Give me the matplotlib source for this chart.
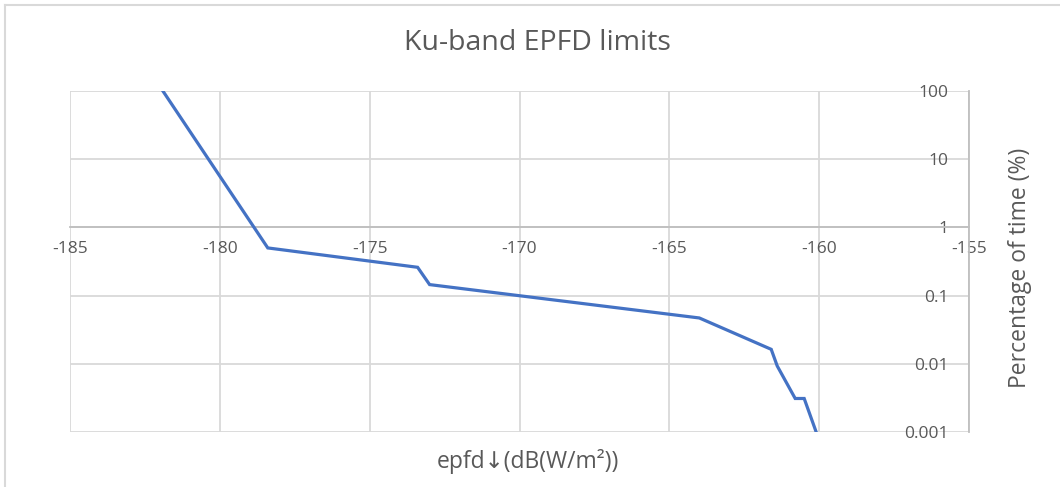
import matplotlib
matplotlib.use("Agg")
import matplotlib.pyplot as plt
from matplotlib.ticker import FixedLocator, FixedFormatter, NullLocator
from matplotlib.lines import Line2D

# Ku-band EPFD mask: epfd level vs percentage of time exceeded
epfd = [-181.9, -178.4, -173.4, -173.0, -164.0, -161.6, -161.4, -160.8, -160.5, -160.1]
pct_time = [100, 0.5, 0.26, 0.145, 0.047, 0.0163, 0.0093, 0.0031, 0.0031, 0.001]

x_ticks = [-185, -180, -175, -170, -165, -160, -155]
y_ticks = [0.001, 0.01, 0.1, 1, 10, 100]
y_tick_labels = ["0.001", "0.01", "0.1", "1", "10", "100"]

plt.rcParams['font.family'] = ['Open Sans', 'DejaVu Sans']
plt.rcParams['axes.unicode_minus'] = False
grey_txt = "#595959"
grid_col = "#D9D9D9"
axis_col = "#BFBFBF"

fig = plt.figure(figsize=(10.6, 4.87), dpi=100)
ax = fig.add_axes([70 / 1060, 1 - 432 / 487, 899 / 1060, 341 / 487])

ax.plot(epfd, pct_time, color="#4472C4", lw=2.3, solid_joinstyle="miter", zorder=3)

ax.set_yscale("log")
ax.set_xlim(-185, -155)
ax.set_ylim(0.001, 100)

ax.xaxis.set_major_locator(FixedLocator(x_ticks))
ax.yaxis.set_major_locator(FixedLocator(y_ticks))
ax.yaxis.set_major_formatter(FixedFormatter(y_tick_labels))
ax.yaxis.set_minor_locator(NullLocator())
ax.grid(True, color=grid_col, lw=1.3)
ax.set_axisbelow(True)

for side in ["left", "top"]:
    ax.spines[side].set_visible(False)
ax.spines["right"].set_color(axis_col)
ax.spines["right"].set_linewidth(1.3)
# horizontal axis crosses the log axis at 1 %
ax.spines["bottom"].set_position(("data", 1))
ax.spines["bottom"].set_color(axis_col)
ax.spines["bottom"].set_linewidth(1.3)

ax.tick_params(axis="x", length=0, pad=10, labelsize=12.5, labelcolor=grey_txt)
ax.yaxis.tick_right()
ax.tick_params(axis="y", which="both", length=0, pad=-15, labelsize=12.5, labelcolor=grey_txt)
for lab in ax.get_yticklabels():
    lab.set_ha("right")

fig.text(537 / 1060, 1 - 43 / 487, "Ku-band EPFD limits", ha="center", va="center",
         fontsize=20.5, color=grey_txt)
fig.text(528 / 1060, 1 - 462 / 487, "epfd↓(dB(W/m²))", ha="center", va="center",
         fontsize=16.5, color=grey_txt)
fig.text(1020 / 1060, 1 - 268 / 487, "Percentage of time (%)", ha="center", va="center",
         rotation=90, fontsize=16.5, color=grey_txt)

# chart frame
fig.add_artist(Line2D([5 / 1060, 5 / 1060], [0, 1 - 5 / 487], transform=fig.transFigure,
                      color="#D9D9D9", lw=1.5))
fig.add_artist(Line2D([5 / 1060, 1], [1 - 5 / 487, 1 - 5 / 487], transform=fig.transFigure,
                      color="#D9D9D9", lw=1.5))

fig.savefig("out.png", dpi=100, facecolor="white")
